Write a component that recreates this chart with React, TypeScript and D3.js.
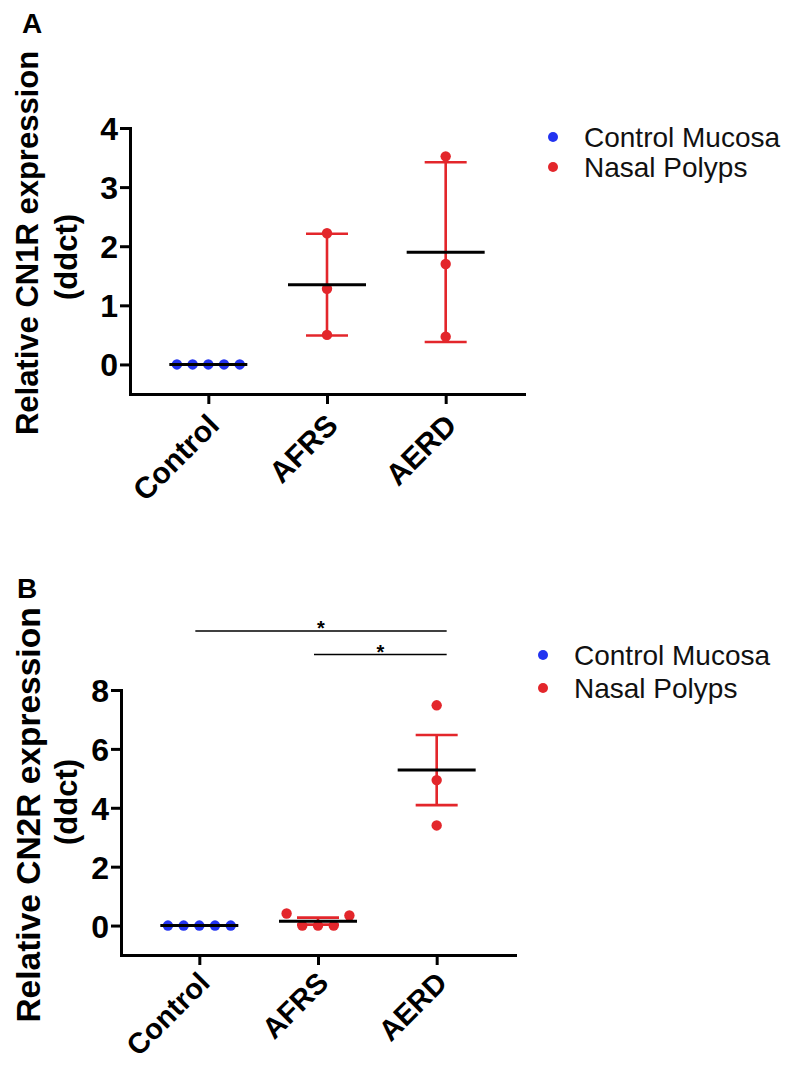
import React, { useRef, useEffect } from 'react';
import * as d3 from 'd3';

// categories and series
const groups = ['Control', 'AFRS', 'AERD'];
const legendLabels = ['Control Mucosa', 'Nasal Polyps'];
const seriesColors = ['#2233f0', '#e3262b'];

// panel A: CN1R
const cn1rControl = [0, 0, 0, 0, 0];
const cn1rAFRS = [2.22, 1.28, 0.5];
const cn1rAERD = [3.52, 1.7, 0.47];
const cn1rMeans = [0, 1.35, 1.9];
const cn1rErr = [0, 0.86, 1.52];
const cn1rTicks = [0, 1, 2, 3, 4];

// panel B: CN2R
const cn2rControl = [0, 0, 0, 0, 0];
const cn2rAFRS = [0.41, 0, 0, 0, 0.34];
const cn2rAERD = [7.48, 4.94, 3.4];
const cn2rMeans = [0, 0.15, 5.28];
const cn2rErr = [0, 0.12, 1.19];
const cn2rTicks = [0, 2, 4, 6, 8];
const cn2rComparisons = [
  ['Control', 'AERD', '*'],
  ['AFRS', 'AERD', '*'],
];

const FONT = 'Liberation Sans, Arial, Helvetica, sans-serif';

const panels = [
  {
    letter: 'A', letterX: 22, letterY: 33,
    label: 'Relative CN1R expression', labelX: 38, labelY: 243, labelSize: 31,
    subX: 77, subY: 257,
    values: [cn1rControl, cn1rAFRS, cn1rAERD], means: cn1rMeans, errs: cn1rErr,
    ticks: cn1rTicks, yDomain: [-0.5, 4],
    left: 130, right: 524, top: 128, bottom: 394,
    legendX: 553, legendY: 137, legendGap: 30,
    catSize: 30, catShift: 18,
    comparisons: [],
  },
  {
    letter: 'B', letterX: 17, letterY: 598,
    label: 'Relative CN2R expression', labelX: 40, labelY: 815, labelSize: 33.5,
    subX: 77, subY: 802,
    values: [cn2rControl, cn2rAFRS, cn2rAERD], means: cn2rMeans, errs: cn2rErr,
    ticks: cn2rTicks, yDomain: [-1, 8],
    left: 121, right: 515, top: 690, bottom: 955,
    legendX: 543, legendY: 655, legendGap: 33,
    catSize: 29, catShift: 15,
    comparisons: cn2rComparisons,
  },
];

// spread points that would overlap sideways, keep data order inside a cluster
const swarm = (vals, y, r, gap) => {
  const order = vals.map((_, i) => i).sort((a, b) => vals[a] - vals[b]);
  const offsets = new Array(vals.length).fill(0);
  let cluster = [];
  const flush = () => {
    const sorted = cluster.slice().sort((a, b) => a - b);
    sorted.forEach((idx, k) => { offsets[idx] = (k - (sorted.length - 1) / 2) * gap; });
    cluster = [];
  };
  order.forEach((idx, k) => {
    if (k > 0 && Math.abs(y(vals[idx]) - y(vals[order[k - 1]])) >= 2 * r + 2) flush();
    cluster.push(idx);
  });
  flush();
  return offsets;
};

const drawPanel = (svg, p) => {
  const g = svg.append('g');
  const x = d3.scalePoint().domain(groups).range([p.left, p.right]).padding(0.66);
  const y = d3.scaleLinear().domain(p.yDomain).range([p.bottom, p.top]);

  // axes
  const yAxis = g.append('g')
    .attr('transform', `translate(${p.left},0)`)
    .call(d3.axisLeft(y).tickValues(p.ticks).tickFormat(d3.format('d'))
      .tickSize(10).tickSizeOuter(0).tickPadding(2));
  const xAxis = g.append('g')
    .attr('transform', `translate(0,${p.bottom})`)
    .call(d3.axisBottom(x).tickSize(10).tickSizeOuter(0));

  [yAxis, xAxis].forEach((a) => {
    a.select('.domain').attr('stroke', '#000').attr('stroke-width', 3).attr('stroke-linecap', 'square');
    a.selectAll('.tick line').attr('stroke', '#000').attr('stroke-width', 3);
    a.selectAll('.tick text')
      .attr('fill', '#000')
      .style('font-family', FONT)
      .style('font-weight', 'bold');
  });
  yAxis.selectAll('.tick text').attr('dy', '0.36em').style('font-size', '32px');
  xAxis.selectAll('.tick text')
    .style('font-size', `${p.catSize}px`)
    .attr('y', 0)
    .attr('dy', '0.71em')
    .attr('text-anchor', 'end')
    .attr('transform', `translate(-3,${p.catShift}) rotate(-45)`);

  // y label
  g.append('text')
    .attr('transform', `translate(${p.labelX},${p.labelY}) rotate(-90)`)
    .attr('text-anchor', 'middle')
    .style('font-family', FONT).style('font-size', `${p.labelSize}px`).style('font-weight', 'bold')
    .text(p.label);
  g.append('text')
    .attr('transform', `translate(${p.subX},${p.subY}) rotate(-90)`)
    .attr('text-anchor', 'middle')
    .style('font-family', FONT).style('font-size', '31px').style('font-weight', 'bold')
    .text('(ddct)');

  // panel letter
  g.append('text')
    .attr('x', p.letterX).attr('y', p.letterY)
    .style('font-family', FONT).style('font-size', '28px').style('font-weight', 'bold')
    .text(p.letter);

  const r = 5.2;
  groups.forEach((grp, gi) => {
    const cx = x(grp);
    const color = seriesColors[gi === 0 ? 0 : 1];
    const m = p.means[gi];
    const e = p.errs[gi];

    // error bars
    if (e > 0) {
      const eg = g.append('g').attr('stroke', color).attr('stroke-width', 2.6);
      eg.append('line').attr('x1', cx).attr('x2', cx).attr('y1', y(m - e)).attr('y2', y(m + e));
      [m - e, m + e].forEach((v) => {
        eg.append('line').attr('x1', cx - 21).attr('x2', cx + 21).attr('y1', y(v)).attr('y2', y(v));
      });
    }

    // points
    const vals = p.values[gi];
    const offs = swarm(vals, y, r, 15.7);
    g.append('g').selectAll('circle')
      .data(vals)
      .join('circle')
      .attr('cx', (d, i) => cx + offs[i])
      .attr('cy', (d) => y(d))
      .attr('r', r)
      .attr('fill', color);

    // mean line
    g.append('line')
      .attr('x1', cx - 39).attr('x2', cx + 39)
      .attr('y1', y(m)).attr('y2', y(m))
      .attr('stroke', '#000').attr('stroke-width', 3);
  });

  // significance bars
  p.comparisons.forEach(([a, b, mark], i) => {
    const ly = p.top - 59 + i * 23.5;
    const x1 = x(a) - 4;
    const x2 = x(b) + 10;
    g.append('line')
      .attr('x1', x1).attr('x2', x2).attr('y1', ly).attr('y2', ly)
      .attr('stroke', '#000').attr('stroke-width', 1.6);
    g.append('text')
      .attr('x', (x1 + x2) / 2).attr('y', ly + 4)
      .attr('text-anchor', 'middle')
      .style('font-family', FONT).style('font-size', '20px').style('font-weight', 'bold')
      .text(mark);
  });

  // legend
  legendLabels.forEach((lab, i) => {
    const ly = p.legendY + i * p.legendGap;
    g.append('circle').attr('cx', p.legendX).attr('cy', ly).attr('r', 5).attr('fill', seriesColors[i]);
    g.append('text')
      .attr('x', p.legendX + 31).attr('y', ly + 10)
      .style('font-family', FONT).style('font-size', '28px')
      .attr('fill', '#111')
      .text(lab);
  });
};

const App = () => {
  const svgRef = useRef(null);

  useEffect(() => {
    const svg = d3.select(svgRef.current);
    svg.selectAll('*').remove();
    panels.forEach((p) => drawPanel(svg, p));
  }, []);

  return (
    <svg
      ref={svgRef}
      width={788}
      height={1065}
      style={{ position: 'absolute', left: 0, top: 0, background: '#fff' }}
    />
  );
};

export default App;
